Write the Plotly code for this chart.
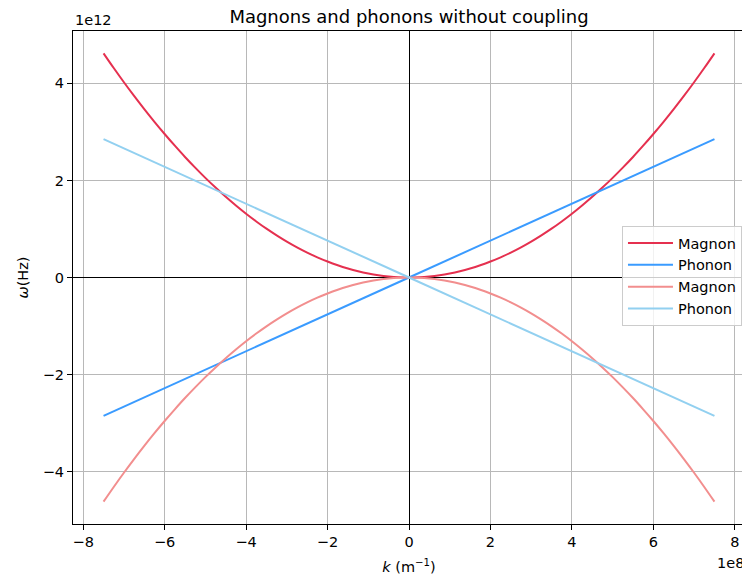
import plotly.graph_objects as go

# wave numbers (m^-1)
k_half = [0.0, 0.25e8, 0.5e8, 0.75e8, 1.0e8, 1.25e8, 1.5e8, 1.75e8, 2.0e8, 2.25e8, 2.5e8,
          2.75e8, 3.0e8, 3.25e8, 3.5e8, 3.75e8, 4.0e8, 4.25e8, 4.5e8, 4.75e8, 5.0e8,
          5.25e8, 5.5e8, 5.75e8, 6.0e8, 6.25e8, 6.5e8, 6.75e8, 7.0e8, 7.25e8, 7.5e8]
k_vals = [-v for v in reversed(k_half[1:])] + k_half

# magnon branch (Hz) for k >= 0 (curve is even in k)
magnon_half = [0.0, 0.005e12, 0.0205e12, 0.046e12, 0.082e12, 0.128e12, 0.185e12, 0.252e12, 0.329e12,
               0.416e12, 0.513e12, 0.621e12, 0.739e12, 0.868e12, 1.006e12, 1.155e12, 1.314e12,
               1.484e12, 1.663e12, 1.853e12, 2.053e12, 2.264e12, 2.484e12, 2.716e12, 2.957e12,
               3.208e12, 3.470e12, 3.742e12, 4.024e12, 4.317e12, 4.620e12]
magnon_pos = list(reversed(magnon_half[1:])) + magnon_half
magnon_neg = [-v for v in magnon_pos]

phonon_k = [-7.5e8, 0.0, 7.5e8]
phonon_pos = [-2.85e12, 0.0, 2.85e12]
phonon_neg = [2.85e12, 0.0, -2.85e12]

x_tickvals = [-8e8, -6e8, -4e8, -2e8, 0, 2e8, 4e8, 6e8, 8e8]
x_ticktext = ["\u22128", "\u22126", "\u22124", "\u22122", "0", "2", "4", "6", "8"]
y_tickvals = [-4e12, -2e12, 0, 2e12, 4e12]
y_ticktext = ["\u22124", "\u22122", "0", "2", "4"]

series = [
    ("Magnon", k_vals, magnon_pos, "#e5304f"),
    ("Phonon", phonon_k, phonon_pos, "#3a9bff"),
    ("Magnon", k_vals, magnon_neg, "#f28e8e"),
    ("Phonon", phonon_k, phonon_neg, "#92d0f0"),
]

fig = go.Figure()
for name, xs, ys, col in series:
    fig.add_trace(go.Scatter(x=xs, y=ys, mode="lines", name=name,
                             line=dict(color=col, width=2, shape="spline", smoothing=1.0)))

FS = 14.5
font = dict(family="DejaVu Sans", size=FS, color="black")
axis_common = dict(showline=True, linecolor="black", linewidth=1, mirror=True,
                   ticks="outside", ticklen=5, tickcolor="black",
                   showgrid=True, gridcolor="#b8b8b8", gridwidth=1,
                   zeroline=True, zerolinecolor="black", zerolinewidth=1,
                   tickfont=font, automargin=False)

# the page adds an 8px body margin, so the figure is sized 742x572
fig.update_layout(
    width=742, height=572,
    margin=dict(l=65, r=5, t=23, b=56, autoexpand=False),
    paper_bgcolor="white", plot_bgcolor="white",
    font=font,
    title=dict(text="Magnons and phonons without coupling", x=0.5, xref="paper", xanchor="center",
               y=1.0, yanchor="top", pad=dict(t=2), automargin=False,
               font=dict(family="DejaVu Sans", size=18, color="black")),
    xaxis=dict(range=[-8.25e8, 8.25e8], tickvals=x_tickvals, ticktext=x_ticktext,
               title=dict(text="<i>k</i> (m<sup>\u22121</sup>)", standoff=12,
                          font=font),
               **axis_common),
    yaxis=dict(range=[-5.08e12, 5.08e12], tickvals=y_tickvals, ticktext=y_ticktext,
               title=dict(text="<i>\u03c9</i>(Hz)", standoff=10,
                          font=font),
               **axis_common),
    legend=dict(x=0.9955, xanchor="right", y=0.503, yanchor="middle",
                bgcolor="rgba(255,255,255,0.8)", bordercolor="#cccccc", borderwidth=1,
                font=font, tracegroupgap=0, itemwidth=45),
    showlegend=True,
    annotations=[
        dict(text="1e12", xref="paper", yref="paper", x=0.0, y=1.0, xanchor="left",
             yanchor="bottom", yshift=1, showarrow=False, font=font),
        dict(text="1e8", xref="paper", yref="paper", x=1.0, y=0.0, xanchor="right",
             yanchor="top", yshift=-29, xshift=1, showarrow=False, font=font),
    ],
)

fig.write_html("out.html")
